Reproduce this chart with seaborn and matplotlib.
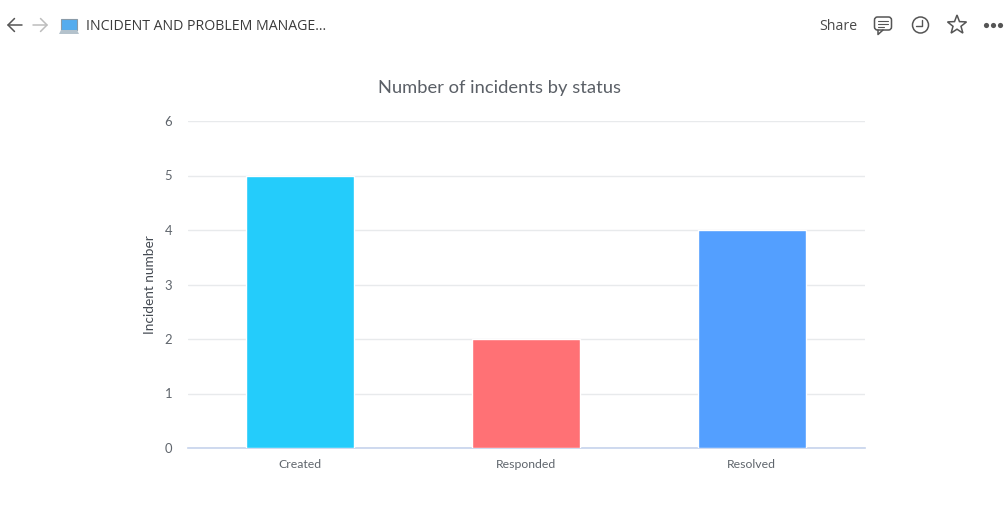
#!/usr/bin/env python3

import numpy as np
import pandas as pd
import seaborn as sns
from matplotlib import pyplot as plt
from matplotlib import patches as mpatches

statuses = ['Created', 'Responded', 'Resolved']
incidents = [5, 2, 4]
bar_colors = ['#24CCFB', '#FF7175', '#539FFF']
y_ticks = [0, 1, 2, 3, 4, 5, 6]

page_title = 'INCIDENT AND PROBLEM MANAGE...'
chart_title = 'Number of incidents by status'
y_title = 'Incident number'

W, H = 1005, 518
ICON = '#555555'


def draw_toolbar(fig):
    # overlay in pixel coordinates, y pointing down like the screenshot
    bar = fig.add_axes([0, 0, 1, 1], zorder=5)
    bar.set_xlim(0, W)
    bar.set_ylim(H, 0)
    bar.axis('off')
    bar.patch.set_alpha(0)

    # back / forward arrows
    bar.plot([8, 22], [25, 25], color=ICON, lw=1.1)
    bar.plot([14.5, 8, 14.5], [18.5, 25, 31.5], color=ICON, lw=1.1)
    bar.plot([33, 47], [25, 25], color='#BDBDBD', lw=1.1)
    bar.plot([40.5, 47, 40.5], [18.5, 25, 31.5], color='#BDBDBD', lw=1.1)

    # laptop emoji
    bar.add_patch(mpatches.Rectangle((61, 19), 16, 11, fc='#55ACEE',
                                     ec='#8A9BA8', lw=0.8))
    bar.add_patch(mpatches.Polygon([[61, 30], [77, 30], [79, 34], [59, 34]],
                                   fc='#B4C2CC', ec='none'))

    bar.text(86, 26.5, page_title, fontsize=10.2, color='#3A3A3A',
             family='Open Sans', va='center', ha='left')
    bar.text(838, 26.5, 'Share', fontsize=10.2, color='#4A4A4A',
             family='Open Sans', va='center', ha='center')

    # comment bubble
    bar.add_patch(mpatches.FancyBboxPatch(
        (874.5, 17), 17, 13, boxstyle='round,pad=0,rounding_size=3',
        fc='none', ec=ICON, lw=1.1))
    bar.plot([878, 878, 883], [30, 34.5, 30], color=ICON, lw=1.1)
    for y, x_end in zip([20.5, 23.5, 26.5], [888, 888, 884]):
        bar.plot([878, x_end], [y, y], color=ICON, lw=0.8)

    # clock
    bar.add_patch(mpatches.Circle((920.5, 25), 8, fc='none', ec=ICON, lw=1.1))
    bar.plot([921.5, 921.5, 916], [19.5, 26, 26], color=ICON, lw=1)

    # star
    angles = np.deg2rad(np.arange(-90, 270, 36))
    radii = np.where(np.arange(10) % 2 == 0, 10, 4.2)
    star = np.column_stack([957 + radii * np.cos(angles),
                            25 + radii * np.sin(angles)])
    bar.add_patch(mpatches.Polygon(star, closed=True, fc='none', ec=ICON,
                                   lw=1.1))

    # more dots
    bar.scatter([986, 993, 1000], [24.5, 24.5, 24.5], s=14, color=ICON, lw=0)


def main():
    sns.set_theme(style='white')
    plt.rcParams['font.family'] = ['Lato', 'DejaVu Sans']

    fig = plt.figure(figsize=(W / 100, H / 100), dpi=100, facecolor='white')
    ax = fig.add_axes([187.5 / W, 1 - 448 / H, 677 / W, 327 / H])

    df = pd.DataFrame({'status': statuses, 'count': incidents})
    sns.barplot(
        data=df, x='status', y='count', hue='status', palette=bar_colors,
        width=0.478, legend=False, ax=ax, zorder=3, saturation=1,
    )

    ax.set_xlim(-0.5, 2.5)
    ax.set_ylim(0, 6)
    ax.set_yticks(y_ticks)
    ax.set_xlabel('')
    ax.set_ylabel(y_title, fontsize=9.8, color='#444A52')
    ax.yaxis.set_label_coords(-31.5 / 677, 0.5)
    ax.grid(axis='y', color='#E8EAEC', lw=1, zorder=0)
    ax.set_axisbelow(True)
    ax.tick_params(axis='x', length=0, labelsize=8.8, labelcolor='#5F656C',
                   pad=8)
    ax.tick_params(axis='y', length=0, labelsize=9.4, labelcolor='#5F656C',
                   pad=11)
    for side in ['top', 'right', 'left']:
        ax.spines[side].set_visible(False)
    ax.spines['bottom'].set_color('#C6D3EC')
    ax.spines['bottom'].set_linewidth(1.2)

    fig.text(499.5 / W, 1 - 88 / H, chart_title, fontsize=13.2,
             color='#5A5F66', ha='center', va='center')

    draw_toolbar(fig)
    fig.savefig('out.png', dpi=100)
    plt.close(fig)


if __name__ == "__main__":
    main()
